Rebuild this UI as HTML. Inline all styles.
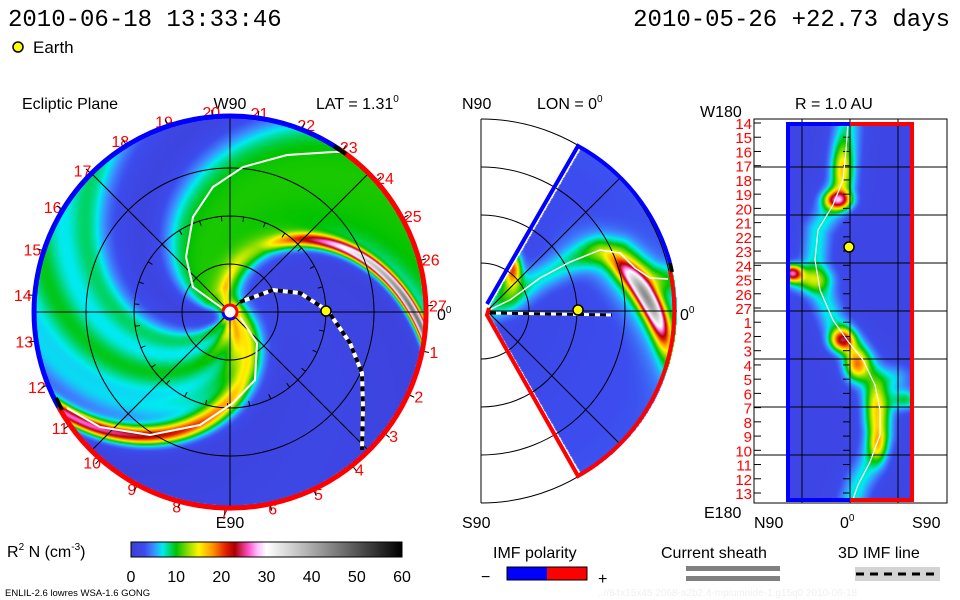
<!DOCTYPE html>
<html><head><meta charset="utf-8">
<style>
body{margin:0;background:#fff;width:960px;height:600px;overflow:hidden;position:relative;font-family:"Liberation Sans",sans-serif}
canvas{position:absolute}
svg{position:absolute;left:0;top:0}
text{font-family:"Liberation Sans",sans-serif}
</style></head><body>
<canvas id="cL" width="388" height="388" style="left:36px;top:118px"></canvas>
<canvas id="cM" width="200" height="384" style="left:481px;top:119px"></canvas>
<canvas id="cR" width="128" height="380" style="left:786px;top:122px"></canvas>
<svg id="ov" width="960" height="600" xmlns="http://www.w3.org/2000/svg">
<defs><linearGradient id="cbGrad" x1="0" x2="1" y1="0" y2="0"></linearGradient></defs>
<text x="8" y="26" style="font-family:'Liberation Mono',monospace" font-size="24">2010-06-18 13:33:46</text>
<text x="950" y="26" text-anchor="end" style="font-family:'Liberation Mono',monospace" font-size="24">2010-05-26 +22.73 days</text>
<circle cx="18" cy="47" r="5" fill="#ff0" stroke="#000" stroke-width="1.5"/>
<text x="33" y="53" font-size="17">Earth</text>

<text x="22" y="109" font-size="16">Ecliptic Plane</text>
<text x="230" y="109" font-size="16" text-anchor="middle">W90</text>
<text x="316" y="109" font-size="16">LAT = 1.31<tspan font-size="10" dy="-7">0</tspan></text>
<text x="230" y="528" font-size="16" text-anchor="middle">E90</text>
<text x="462" y="109" font-size="16">N90</text>
<text x="537" y="109" font-size="16">LON = 0<tspan font-size="10" dy="-7">0</tspan></text>
<text x="462" y="528" font-size="16">S90</text>
<text x="680" y="320" font-size="16">0<tspan font-size="10" dy="-7">0</tspan></text>
<text x="437" y="320" font-size="16">0<tspan font-size="10" dy="-7">0</tspan></text>
<text x="795" y="109" font-size="16">R = 1.0 AU</text>
<text x="700" y="117" font-size="16">W180</text>
<text x="704" y="518" font-size="16">E180</text>
<text x="754" y="528" font-size="16">N90</text>
<text x="840" y="528" font-size="16">0<tspan font-size="10" dy="-7">0</tspan></text>
<text x="912" y="528" font-size="16">S90</text>

<g fill="none" stroke="#000" stroke-width="1">
<circle cx="230" cy="312" r="48"/>
<circle cx="230" cy="312" r="96"/>
<circle cx="230" cy="312" r="144"/>
<line x1="36" y1="312" x2="424" y2="312"/>
<line x1="230" y1="118" x2="230" y2="506"/>
<line x1="93" y1="175" x2="367" y2="449"/>
<line x1="93" y1="449" x2="367" y2="175"/>
</g>
<g id="leftTicks"></g>
<polyline fill="none" stroke="#fff" stroke-width="2" points="222,308 193,287 186,257 193,217 213,187 243,167 287,155 333,152 345,152"/>
<polyline fill="none" stroke="#fff" stroke-width="2" points="240,317 257,343 255,380 233,403 200,425 150,435 100,427 67,408"/>
<path d="M339.6,149.5 A196,196 0 0 0 58.6,407" fill="none" stroke="#00f" stroke-width="5"/>
<path d="M58.6,407 A196,196 0 1 0 339.6,149.5" fill="none" stroke="#f00" stroke-width="5"/>
<line x1="334" y1="146" x2="346" y2="154" stroke="#000" stroke-width="4"/>
<line x1="56" y1="398" x2="62" y2="410" stroke="#000" stroke-width="4"/>
<polyline fill="none" stroke="#fff" stroke-width="4" points="240,302 273,290 300,293 328,311 350,343 362,373 363,407 362,450"/>
<polyline fill="none" stroke="#000" stroke-width="4" stroke-dasharray="5,5" points="240,302 273,290 300,293 328,311 350,343 362,373 363,407 362,450"/>
<circle cx="230" cy="312" r="7" fill="#fff" stroke="#f00" stroke-width="3"/>
<path d="M223,312 A7,7 0 0 0 235,317" fill="none" stroke="#00f" stroke-width="3"/>
<circle id="earthL" cx="328" cy="311" r="5" fill="#ff0" stroke="#000" stroke-width="1.5"/>

<g fill="none" stroke="#000" stroke-width="1">
<line x1="481" y1="119" x2="481" y2="503"/>
<path d="M481,263 A48,48 0 0 1 481,359"/>
<path d="M481,215 A96,96 0 0 1 481,407"/>
<path d="M481,167 A144,144 0 0 1 481,455"/>
<path d="M481,119 A192,192 0 0 1 481,503"/>
<line x1="487" y1="311" x2="677" y2="311"/>
<line x1="487" y1="311" x2="621" y2="177"/>
<line x1="487" y1="311" x2="621" y2="445"/>
</g>
<polyline fill="none" stroke="#fff" stroke-width="1.5" points="487,311 510,300 540,278 570,262 600,250 620,253 635,268 650,278 668,279"/>
<path d="M487,304 L578,146 A190,190 0 0 1 670,263" fill="none" stroke="#00f" stroke-width="4"/>
<path d="M670,270 A190,190 0 0 1 578,476 L487,315 L489,308" fill="none" stroke="#f00" stroke-width="4"/>
<line x1="670" y1="263" x2="672" y2="272" stroke="#000" stroke-width="4"/>
<line x1="490" y1="313" x2="612" y2="315" stroke="#fff" stroke-width="3"/>
<line x1="490" y1="313" x2="612" y2="315" stroke="#000" stroke-width="3" stroke-dasharray="6,5"/>
<circle cx="578" cy="310" r="5" fill="#ff0" stroke="#000" stroke-width="1.5"/>

<g fill="none" stroke="#000" stroke-width="1">
<rect x="754" y="119" width="193" height="384"/>
<line x1="802" y1="119" x2="802" y2="503"/>
<line x1="850" y1="119" x2="850" y2="503"/>
<line x1="898" y1="119" x2="898" y2="503"/>
<line x1="754" y1="167" x2="947" y2="167"/>
<line x1="754" y1="215" x2="947" y2="215"/>
<line x1="754" y1="263" x2="947" y2="263"/>
<line x1="754" y1="311" x2="947" y2="311"/>
<line x1="754" y1="359" x2="947" y2="359"/>
<line x1="754" y1="407" x2="947" y2="407"/>
<line x1="754" y1="455" x2="947" y2="455"/>
</g>
<g id="rightTicks"></g>
<polyline fill="none" stroke="#fff" stroke-width="1.2" points="848,123 846,150 843,180 833,205 818,230 815,260 820,290 833,320 847,340 863,360 875,385 880,410 880,435 870,462 858,485 852,502"/>
<path d="M850,124 L788,124 L788,500 L850,500" fill="none" stroke="#00f" stroke-width="4"/>
<path d="M850,124 L912,124 L912,500 L850,500" fill="none" stroke="#f00" stroke-width="4"/>
<circle cx="849" cy="247" r="5" fill="#ff0" stroke="#000" stroke-width="1.5"/>

<text x="7" y="557" font-size="16">R<tspan font-size="10" dy="-7">2</tspan><tspan dy="7"> N (cm</tspan><tspan font-size="10" dy="-7">-3</tspan><tspan dy="7">)</tspan></text>
<rect x="131" y="542" width="271" height="15" fill="url(#cbGrad)" stroke="#000" stroke-width="1"/>
<g id="cbTicks"></g>

<text x="493" y="558" font-size="16">IMF polarity</text>
<text x="481" y="582" font-size="16">−</text>
<rect x="507" y="567" width="40" height="13" fill="#00f"/>
<rect x="547" y="567" width="40" height="13" fill="#f00"/>
<rect x="507" y="567" width="80" height="13" fill="none" stroke="#000"/>
<text x="598" y="584" font-size="16">+</text>
<text x="661" y="558" font-size="16">Current sheath</text>
<rect x="686" y="566" width="94" height="5" fill="#808080"/>
<rect x="686" y="576" width="94" height="5" fill="#808080"/>
<text x="838" y="558" font-size="16">3D IMF line</text>
<rect x="855" y="567" width="85" height="14" fill="#d3d3d3"/>
<line x1="856" y1="574" x2="940" y2="574" stroke="#000" stroke-width="3" stroke-dasharray="8,6"/>
<text x="5" y="596" font-size="9.5">ENLIL-2.6 lowres WSA-1.6 GONG</text>
<text x="598" y="596" font-size="10" fill="#f0f0f0">..//64x15x45.2068-a2b2.4-mpiumnide-1.g15q0   2010-06-18</text>
</svg>
<script>
// ---- data ----
const cbTickValues=[0,10,20,30,40,50,60];
const carringtonDays=[1,2,3,4,5,6,7,8,9,10,11,12,13,14,15,16,17,18,19,20,21,22,23,24,25,26,27];
const rightLonLabels=[14,15,16,17,18,19,20,21,22,23,24,25,26,27,1,2,3,4,5,6,7,8,9,10,11,12,13];
const cmapValues=[0,3,5,7,8.5,10,13,15,18,21,23,26,28,30,60];
const cmapColors=[[62,62,212],[60,76,238],[60,140,255],[0,235,240],[0,215,120],[0,195,0],[160,225,0],[255,245,0],[255,150,0],[225,30,0],[170,0,0],[255,80,200],[255,190,255],[255,255,255],[0,0,0]];
const armPhases=[101,318];
const armInnerPeak=[6,10];
const armOuterPeak=[40,21];
const earthAU=1.0;
const earthLonDeg=0;
const cbMax=60;

const NS="http://www.w3.org/2000/svg";
function sq(x){return x*x;}
function cmap(v){
  if(v<=cmapValues[0])return cmapColors[0];
  for(let i=1;i<cmapValues.length;i++){
    if(v<=cmapValues[i]){const t=(v-cmapValues[i-1])/(cmapValues[i]-cmapValues[i-1]);const a=cmapColors[i-1],b=cmapColors[i];
      return [a[0]+(b[0]-a[0])*t,a[1]+(b[1]-a[1])*t,a[2]+(b[2]-a[2])*t];}
  }
  return cmapColors[cmapColors.length-1];
}
function sig(x){return 1/(1+Math.exp(-x));}
function clamp(x){return Math.max(0,Math.min(1,x));}
function angd(a,b){return ((a-b+540)%360+360)%360-180;}
function segDist(px,py,pts){let best=1e9;for(let i=0;i<pts.length-1;i++){const x1=pts[i][0],y1=pts[i][1],x2=pts[i+1][0],y2=pts[i+1][1];const dx=x2-x1,dy=y2-y1;let t=((px-x1)*dx+(py-y1)*dy)/(dx*dx+dy*dy);t=clamp(t);const d=Math.hypot(px-x1-t*dx,py-y1-t*dy);if(d<best)best=d;}return best;}

// ---- left: ecliptic ----
(function(){
  const c=document.getElementById('cL'),ctx=c.getContext('2d');const im=ctx.createImageData(388,388);const R=194;
  for(let py=0;py<388;py++)for(let px=0;px<388;px++){
    const X=px+36.5-230,Y=312-(py+118.5);const r=Math.hypot(X,Y);if(r>R)continue;
    const phi=Math.atan2(Y,X)*180/Math.PI;const p=((phi+0.55*r)%360+360)%360;
    let v=1.5+0.4*Math.sin(p*Math.PI/180*3);
    const inner=clamp(r/25);
    const pl1=sig((p-106)/3)*sig((182-p)/6);
    v+=8.6*pl1*inner;
    const pl2=sig((p-226)/6)*sig((302-p)/5);
    v+=6.5*pl2*inner+1.3*Math.cos((p-240)*Math.PI/16)*pl2;
    for(let k=0;k<armPhases.length;k++){
      const d=angd(p,armPhases[k])*Math.PI/180*Math.max(r,10);
      const A=armInnerPeak[k]+(armOuterPeak[k]-armInnerPeak[k])*clamp((r-70)/110);
      const w=k===0?10:15;
      const hw=k===0?20:30;
      v+=A*Math.exp(-sq(d/w))+(k===0?3.5:4)*Math.exp(-sq(d/hw));
    }
    const col=cmap(v);const i=(py*388+px)*4;im.data[i]=col[0];im.data[i+1]=col[1];im.data[i+2]=col[2];im.data[i+3]=255;
  }
  ctx.putImageData(im,0,0);
})();

// ---- middle: meridional ----
(function(){
  const c=document.getElementById('cM'),ctx=c.getContext('2d');const W=200,H=384;const im=ctx.createImageData(W,H);
  const wl=[[487,311],[510,300],[540,278],[570,262],[600,250],[620,253],[635,268],[650,278],[668,279]];
  for(let py=0;py<H;py++)for(let px=0;px<W;px++){
    const x=px+481.5,y=py+119.5;const X=x-487,Y=311-y;const r=Math.hypot(X,Y);const th=Math.atan2(Y,X)*180/Math.PI;
    if(r>190||Math.abs(th)>60)continue;
    let v=2+1.2*(r/190);
    const rc=160-1.3*(th-5);const d=r-rc;
    v+=32*Math.exp(-sq((th-4)/14))*Math.exp(-sq(d/10));
    v+=8*Math.exp(-sq((th-8)/24))*Math.exp(-sq(d/26));
    const dl=segDist(x,y,wl);v+=5*Math.exp(-sq(dl/14));
    v+=15*Math.exp(-(sq((x-513)/8)+sq((y-268)/16)));
    v+=6*Math.exp(-(sq((x-506)/16)+sq((y-285)/20)));
    const col=cmap(v);const i=(py*W+px)*4;im.data[i]=col[0];im.data[i+1]=col[1];im.data[i+2]=col[2];im.data[i+3]=255;
  }
  ctx.putImageData(im,0,0);
})();

// ---- right: lat-lon at 1 AU ----
(function(){
  const c=document.getElementById('cR'),ctx=c.getContext('2d');const W=128,H=380;const im=ctx.createImageData(W,H);
  const wl=[[848,123],[846,150],[843,180],[833,205],[818,230],[815,260],[820,290],[833,320],[847,340],[863,360],[875,385],[880,410],[880,435],[870,462],[858,485],[852,502]];
  const blobs=[[842,170,9,10,28],[838,200,19,13,9],[792,273,21,10,8],[808,280,8,22,12],[842,340,17,12,11],[856,365,13,12,16],[876,410,9,12,28],[905,400,7,14,10],[878,445,8,9,18],[895,378,4,18,14]];
  for(let py=0;py<H;py++)for(let px=0;px<W;px++){
    const x=px+786.5,y=py+122.5;let v=1.8;
    const dl=segDist(x,y,wl);v+=5.5*Math.exp(-sq(dl/14));
    for(const b of blobs)v+=b[2]*Math.exp(-(sq((x-b[0])/b[3])+sq((y-b[1])/b[4])));
    const col=cmap(v);const i=(py*W+px)*4;im.data[i]=col[0];im.data[i+1]=col[1];im.data[i+2]=col[2];im.data[i+3]=255;
  }
  ctx.putImageData(im,0,0);
})();

// ---- colorbar gradient + ticks ----
(function(){
  const g=document.getElementById('cbGrad');
  for(let i=0;i<cmapValues.length;i++){
    const s=document.createElementNS(NS,'stop');
    s.setAttribute('offset',(cmapValues[i]/cbMax));
    const c=cmapColors[i];s.setAttribute('stop-color','rgb('+c.map(Math.round).join(',')+')');
    g.appendChild(s);
  }
  const t=document.getElementById('cbTicks');
  for(const v of cbTickValues){
    const e=document.createElementNS(NS,'text');
    
    
    e.setAttribute('x',131+v/cbMax*271);e.setAttribute('y',582);e.setAttribute('font-size','16');e.setAttribute('text-anchor','middle');
    e.textContent=v;t.appendChild(e);
  }
})();

// ---- ecliptic carrington labels and ticks ----
(function(){
  const g=document.getElementById('leftTicks');
  for(const k of carringtonDays){
    const a=(-11.5-(k-1)*360/27)*Math.PI/180;
    const e=document.createElementNS(NS,'text');
    
    
    e.setAttribute('x',230+208*Math.cos(a));e.setAttribute('y',312-201*Math.sin(a)+6);
    e.setAttribute('font-size','16');e.setAttribute('fill','#f00');e.setAttribute('text-anchor','middle');
    e.textContent=k;g.appendChild(e);
    const l=document.createElementNS(NS,'line');
    
    
    l.setAttribute('x1',230+96*Math.cos(a));l.setAttribute('y1',312-96*Math.sin(a));
    l.setAttribute('x2',230+91*Math.cos(a));l.setAttribute('y2',312-91*Math.sin(a));
    l.setAttribute('stroke','#000');g.appendChild(l);
    const o=document.createElementNS(NS,'line');
    
    
    o.setAttribute('x1',230+197*Math.cos(a));o.setAttribute('y1',312-197*Math.sin(a));
    o.setAttribute('x2',230+203*Math.cos(a));o.setAttribute('y2',312-203*Math.sin(a));
    o.setAttribute('stroke','#000');g.appendChild(o);
  }
  const earth=document.getElementById('earthL');
  earth.setAttribute('cx',230+96*earthAU*Math.cos(earthLonDeg*Math.PI/180));
  earth.setAttribute('cy',311-96*earthAU*Math.sin(earthLonDeg*Math.PI/180));
})();

// ---- right panel longitude labels ----
(function(){
  const g=document.getElementById('rightTicks');
  rightLonLabels.forEach(function(k,i){
    const y=123+i*(370/26);
    const e=document.createElementNS(NS,'text');
    
    
    e.setAttribute('x',752);e.setAttribute('y',y+6);e.setAttribute('font-size','15');e.setAttribute('fill','#f00');e.setAttribute('text-anchor','end');
    e.textContent=k;g.appendChild(e);
    const t1=document.createElementNS(NS,'line');
    
    
    t1.setAttribute('x1',754);t1.setAttribute('x2',761);t1.setAttribute('y1',y);t1.setAttribute('y2',y);t1.setAttribute('stroke','#000');g.appendChild(t1);
    const t2=document.createElementNS(NS,'line');
    
    
    t2.setAttribute('x1',843);t2.setAttribute('x2',850);t2.setAttribute('y1',y);t2.setAttribute('y2',y);t2.setAttribute('stroke','#000');g.appendChild(t2);
  });
})();
</script>
</body></html>
